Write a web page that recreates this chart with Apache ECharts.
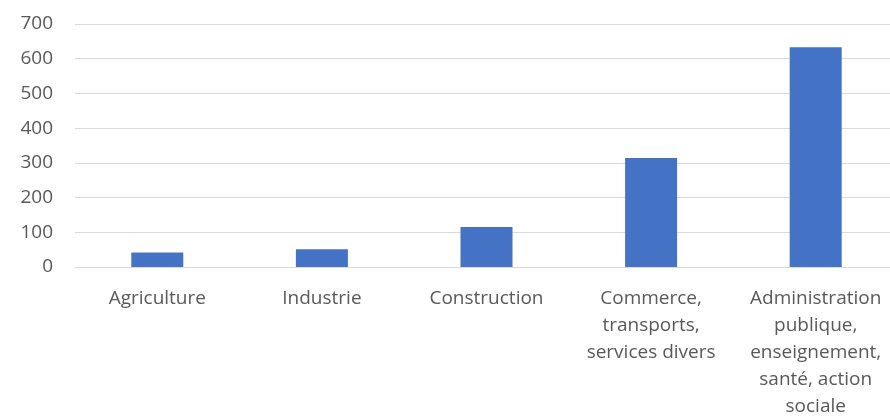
<!DOCTYPE html>
<html>
<head>
<meta charset="utf-8">
<script src="https://cdn.jsdelivr.net/npm/echarts@6/dist/echarts.min.js"></script>
<style>
  html, body { margin: 0; padding: 0; background: #fff; }
  #chart { width: 890px; height: 419px; }
</style>
</head>
<body>
<div id="chart"></div>
<script>
// secteurs d'activité
const categories = [
  'Agriculture',
  'Industrie',
  'Construction',
  'Commerce,\ntransports,\nservices divers',
  'Administration\npublique,\nenseignement,\nsanté, action\nsociale'
]
const values = [42, 51, 115, 314, 633]
const yTicks = [0, 100, 200, 300, 400, 500, 600, 700]

const chart = echarts.init(document.getElementById('chart'))
const fontFamily = '"Open Sans", "Noto Sans", sans-serif'

chart.setOption({
  animation: false,
  grid: {
    left: 75,
    top: 24,
    width: 823,
    height: 243,
    outerBoundsMode: 'none'
  },
  xAxis: {
    type: 'category',
    data: categories,
    axisLine: { show: true, lineStyle: { color: '#D9D9D9', width: 1 } },
    axisTick: { show: false },
    axisLabel: {
      color: '#595959',
      fontFamily: fontFamily,
      fontSize: 19,
      lineHeight: 27,
      margin: 18,
      interval: 0,
      align: 'center'
    }
  },
  yAxis: {
    type: 'value',
    min: yTicks[0],
    max: yTicks[yTicks.length - 1],
    interval: 100,
    axisLine: { show: false },
    axisTick: { show: false },
    splitLine: { lineStyle: { color: '#D9D9D9', width: 1 } },
    axisLabel: {
      color: '#595959',
      fontFamily: fontFamily,
      fontSize: 19,
      margin: 22
    }
  },
  series: [
    {
      type: 'bar',
      data: values,
      barWidth: 52,
      itemStyle: { color: '#4472C4' }
    }
  ]
})
</script>
</body>
</html>
